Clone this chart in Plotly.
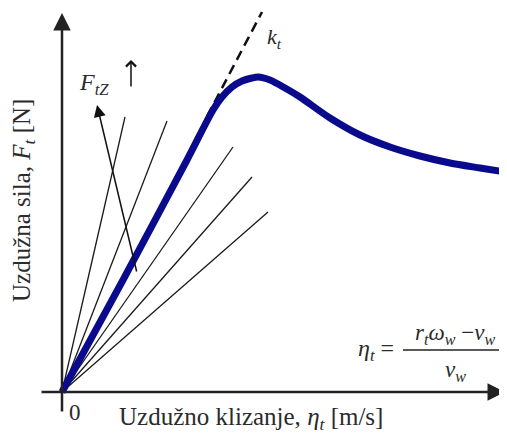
import plotly.graph_objects as go

# ---- data (diagram units: slip on x, force on y) ----
slip_curve = [0, 0.61, 1.25, 1.51, 1.60, 1.70, 1.80, 1.90, 1.96, 2.08, 2.23, 2.38,
              2.68, 2.98, 3.28, 3.58, 3.88, 4.18, 4.43]
force_curve = [0, 1.12, 2.32, 2.82, 2.95, 3.05, 3.11, 3.14, 3.15, 3.12, 3.04, 2.95,
               2.74, 2.57, 2.45, 2.36, 2.29, 2.24, 2.20]

ray_slip_end = [0.63, 1.05, 1.71, 1.90, 2.06]
ray_force_end = [2.75, 2.71, 2.45, 2.15, 1.80]

kt_slip = [1.45, 2.00]
kt_force = [2.755, 3.80]

ftz_arrow_slip = [0.75, 0.35]
ftz_arrow_force = [1.19, 2.87]

x_axis_span = [-0.22, 4.43]
y_axis_span = [-0.21, 3.79]

FONT = "Liberation Serif, Times New Roman, serif"
TXT = "#2b2b2b"

# page body has an 8px margin; 100 px per diagram unit, origin at page (62, 392)
OFF = 8
W, H = 507 - OFF, 434 - OFF


def px_x(p):
    return (p - 62) / 100


def px_y(p):
    return (392 - p) / 100


fig = go.Figure()

for xs, ys in zip(ray_slip_end, ray_force_end):
    fig.add_trace(go.Scatter(x=[0, xs], y=[0, ys], mode="lines",
                             line=dict(color="#1a1a1a", width=1.3),
                             hoverinfo="skip", showlegend=False))

fig.add_trace(go.Scatter(x=kt_slip, y=kt_force, mode="lines",
                         line=dict(color="#111111", width=2.5, dash="10px,6px"),
                         hoverinfo="skip", showlegend=False))

fig.add_trace(go.Scatter(x=slip_curve, y=force_curve, mode="lines",
                         line=dict(color="#0a0a8c", width=7, shape="spline", smoothing=0.8),
                         hoverinfo="skip", showlegend=False))

ann = []
# axes as arrows
ann.append(dict(x=x_axis_span[1], y=0, ax=x_axis_span[0], ay=0, xref="x", yref="y",
                axref="x", ayref="y", text="", showarrow=True, arrowhead=2,
                arrowsize=1.4, arrowwidth=2.5, arrowcolor="#222222", standoff=0))
ann.append(dict(x=0, y=y_axis_span[1], ax=0, ay=y_axis_span[0], xref="x", yref="y",
                axref="x", ayref="y", text="", showarrow=True, arrowhead=2,
                arrowsize=1.4, arrowwidth=2.5, arrowcolor="#222222", standoff=0))
# F_tZ arrow
ann.append(dict(x=ftz_arrow_slip[1], y=ftz_arrow_force[1], ax=ftz_arrow_slip[0],
                ay=ftz_arrow_force[0], xref="x", yref="y", axref="x", ayref="y",
                text="", showarrow=True, arrowhead=2, arrowsize=1.6, arrowwidth=1.5,
                arrowcolor="#111111", standoff=0))
# small up arrow next to F_tZ label
ann.append(dict(x=px_x(131), y=px_y(60), ax=px_x(131), ay=px_y(88), xref="x", yref="y",
                axref="x", ayref="y", text="", showarrow=True, arrowhead=4, arrowsize=1.3,
                arrowwidth=1.5, arrowcolor="#111111", standoff=0))

ann.append(dict(x=px_x(94), y=px_y(84), text="<i>F<sub>tZ</sub></i>", showarrow=False,
                font=dict(family=FONT, size=24, color=TXT), xref="x", yref="y"))
ann.append(dict(x=px_x(274), y=px_y(38), text="<i>k<sub>t</sub></i>", showarrow=False,
                font=dict(family=FONT, size=22, color=TXT), xref="x", yref="y"))
ann.append(dict(x=px_x(75), y=px_y(412), text="0", showarrow=False,
                font=dict(family=FONT, size=23, color=TXT), xref="x", yref="y"))

# formula
ann.append(dict(x=px_x(376), y=px_y(350), text="<i>η<sub>t</sub></i> =", showarrow=False,
                font=dict(family=FONT, size=24, color=TXT), xref="x", yref="y"))
ann.append(dict(x=px_x(455), y=px_y(334),
                text="<i>r<sub>t</sub>ω<sub>w</sub></i> −<i>ν<sub>w</sub></i>",
                showarrow=False, font=dict(family=FONT, size=23, color=TXT),
                xref="x", yref="y"))
ann.append(dict(x=px_x(455), y=px_y(371), text="<i>ν<sub>w</sub></i>", showarrow=False,
                font=dict(family=FONT, size=23, color=TXT), xref="x", yref="y"))

# axis titles
ann.append(dict(x=px_x(251), y=px_y(418),
                text="Uzdužno klizanje, <i>η<sub>t</sub></i> [m/s]", showarrow=False,
                font=dict(family=FONT, size=25, color=TXT), xref="x", yref="y",
                borderpad=0))
ann.append(dict(x=px_x(23), y=px_y(201), textangle=-90,
                text="Uzdužna sila, <i>F<sub>t</sub></i> [N]", showarrow=False,
                font=dict(family=FONT, size=25, color=TXT), xref="x", yref="y",
                borderpad=0))

fig.update_layout(
    width=W, height=H,
    margin=dict(l=0, r=0, t=0, b=0),
    paper_bgcolor="white", plot_bgcolor="white",
    xaxis=dict(range=[px_x(OFF), px_x(507)], visible=False, fixedrange=True),
    yaxis=dict(range=[px_y(434), px_y(OFF)], visible=False, fixedrange=True),
    annotations=ann,
    shapes=[dict(type="line", xref="x", yref="y", x0=px_x(403), x1=px_x(506),
                 y0=px_y(350), y1=px_y(350), line=dict(color="#222222", width=1.5))],
)

fig.write_html("out.html")
